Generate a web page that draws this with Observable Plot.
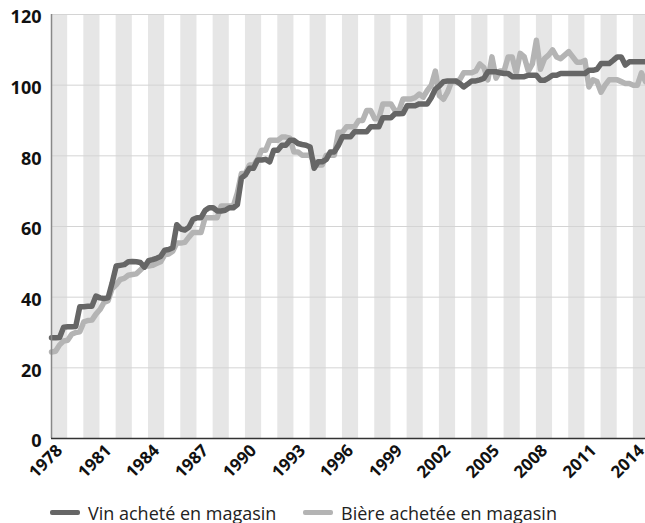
<!DOCTYPE html>
<html><head><meta charset="utf-8">
<script src="https://cdn.jsdelivr.net/npm/d3@7"></script>
<script src="https://cdn.jsdelivr.net/npm/@observablehq/plot@0.6"></script>
<style>
body{margin:0;background:#fff;font-family:"Open Sans",sans-serif;}
#chart{position:relative;width:645px;height:490px;overflow:hidden}
#chart svg{display:block}
#chart .xl{position:absolute;white-space:nowrap;font:bold 17px/1 "Open Sans",sans-serif;color:#111;
  transform-origin:100% 0;transform:rotate(-45deg)}
#legend{position:relative;height:33px;width:645px;font-size:18px;color:#222}
#legend .item{position:absolute;top:0;height:33px;display:flex;align-items:center;white-space:nowrap}
#legend .sw{display:inline-block;width:30px;height:5px;border-radius:2px;margin-right:8px}
</style></head><body>
<div id="chart"></div>
<div id="legend"></div>
<script>
const startYear = 1978; // quarterly series, first quarter of 1978
const seriesNames = ["Vin acheté en magasin", "Bière achetée en magasin"];
const seriesColors = ["#666666", "#b4b4b4"];
const xTicks = [1978,1981,1984,1987,1990,1993,1996,1999,2002,2005,2008,2011,2014];
const yTicks = [0,20,40,60,80,100,120];

const wine = [
  28.5,28.5,28.6,31.5, 31.6,31.6,31.7,37.3, 37.3,37.4,37.4,40.3, 39.8,39.6,39.8,44.0,
  48.8,49.0,49.2,50.0, 50.1,50.0,49.8,48.5, 50.3,50.6,51.0,51.5, 53.3,53.5,54.0,60.5,
  59.3,59.0,59.8,62.0, 62.5,62.5,64.5,65.3, 65.3,64.4,64.4,64.6, 65.3,65.3,66.2,73.7,
  74.6,76.5,76.5,78.8, 78.8,79.0,78.3,81.6, 81.6,83.0,83.0,84.4, 84.4,83.5,83.2,83.0,
  82.5,76.5,78.3,78.3, 79.0,81.1,81.1,83.0, 85.4,85.4,85.4,86.8, 86.8,86.8,86.8,88.2,
  88.2,88.2,90.8,90.8, 90.8,91.9,91.9,92.0, 94.2,94.2,94.2,94.7, 94.7,94.7,96.5,98.9,
  99.8,101.0,101.2,101.2, 101.2,100.5,99.5,100.3, 101.2,101.2,101.5,101.9, 103.8,103.8,103.8,103.5,
  103.3,103.3,102.4,102.4, 102.4,102.4,102.8,102.8, 102.8,101.4,101.4,102.0, 102.8,102.8,103.3,103.3,
  103.3,103.3,103.3,103.3, 103.3,104.2,104.2,104.5, 106.1,106.1,106.1,107.0, 108.0,108.0,105.7,106.6,
  106.6,106.6,106.6,106.6
];
const beer = [
  24.5,24.7,26.5,27.6, 27.8,29.5,30.0,30.2, 33.0,33.4,33.5,35.2, 36.5,38.5,39.0,42.4,
  43.5,45.0,45.3,46.2, 46.4,46.6,47.7,48.8, 48.8,49.0,49.5,50.0, 52.0,52.2,53.0,55.3,
  55.3,55.5,57.0,58.3, 58.3,58.3,62.5,62.5, 62.5,62.5,65.8,65.8, 65.8,65.8,69.5,75.0,
  75.0,77.4,77.4,79.0, 81.6,81.6,84.4,84.4, 84.4,85.3,85.3,85.0, 81.1,81.1,80.2,80.2,
  80.2,78.3,77.4,77.4, 80.2,80.2,80.2,86.7, 86.7,88.2,88.2,88.2, 90.0,90.0,92.8,92.8,
  90.5,90.5,94.7,94.7, 94.7,92.8,92.8,96.1, 96.1,96.1,96.5,97.5, 96.6,98.5,100.0,104.0,
  97.0,96.0,98.0,101.0, 101.0,101.5,103.5,103.5, 103.5,104.0,106.0,105.0, 101.5,108.0,102.0,104.0,
  104.0,108.0,108.0,103.5, 109.0,108.0,104.0,106.0, 112.7,104.5,107.5,108.5, 110.0,108.0,107.5,108.5,
  109.5,108.0,106.5,106.5, 107.0,99.5,101.5,101.0, 98.0,100.0,101.5,101.5, 101.5,101.0,100.5,100.5,
  100.0,100.0,103.5,101.0
];

const times = wine.map((_, i) => startYear + i / 4);
const xEnd = times[times.length - 1];
const bandYears = d3.range(1978, 2015, 2);

const chart = Plot.plot({
  width: 645, height: 490,
  marginLeft: 51, marginRight: 0, marginTop: 14, marginBottom: 52,
  x: {domain: [startYear, xEnd], axis: null},
  y: {domain: [0, 120], axis: null},
  marks: [
    Plot.rect(bandYears, {x1: d => d, x2: d => Math.min(d + 1, xEnd), y1: 0, y2: 120, fill: "#e6e6e6"}),
    Plot.ruleY(yTicks, {stroke: "#d4d4d4", strokeWidth: 1}),
    Plot.line(times, {x: d => d, y: (d, i) => beer[i], stroke: seriesColors[1], strokeWidth: 5.5}),
    Plot.line(times, {x: d => d, y: (d, i) => wine[i], stroke: seriesColors[0], strokeWidth: 5.5}),
    Plot.ruleX([startYear], {stroke: "#888", strokeWidth: 1.5}),
    Plot.ruleY([0], {stroke: "#333", strokeWidth: 1.5}),
    Plot.text(yTicks, {x: startYear, y: d => d, text: d => String(d), textAnchor: "end", dx: -10, dy: 3,
      fontSize: 18, fontWeight: "bold", fill: "#111", fontFamily: "Open Sans, sans-serif"})
  ]
});
const host = document.getElementById("chart");
host.appendChild(chart);

// x tick labels, rotated -45°, placed with Plot's x and y scales
const sx = chart.scale("x"), sy = chart.scale("y");
xTicks.forEach(t => {
  const el = document.createElement("div");
  el.className = "xl";
  el.textContent = String(t);
  const ax = sx.apply(t) + 2, ay = sy.apply(0) + 3;
  el.style.right = (645 - ax) + "px";
  el.style.top = ay + "px";
  host.appendChild(el);
});

const legend = document.getElementById("legend");
const lefts = [50, 303];
seriesNames.forEach((name, i) => {
  const it = document.createElement("div");
  it.className = "item";
  it.style.left = lefts[i] + "px";
  it.style.top = "6px";
  const sw = document.createElement("span");
  sw.className = "sw";
  sw.style.background = seriesColors[i];
  it.appendChild(sw);
  it.appendChild(document.createTextNode(name));
  legend.appendChild(it);
});
</script>
</body></html>
